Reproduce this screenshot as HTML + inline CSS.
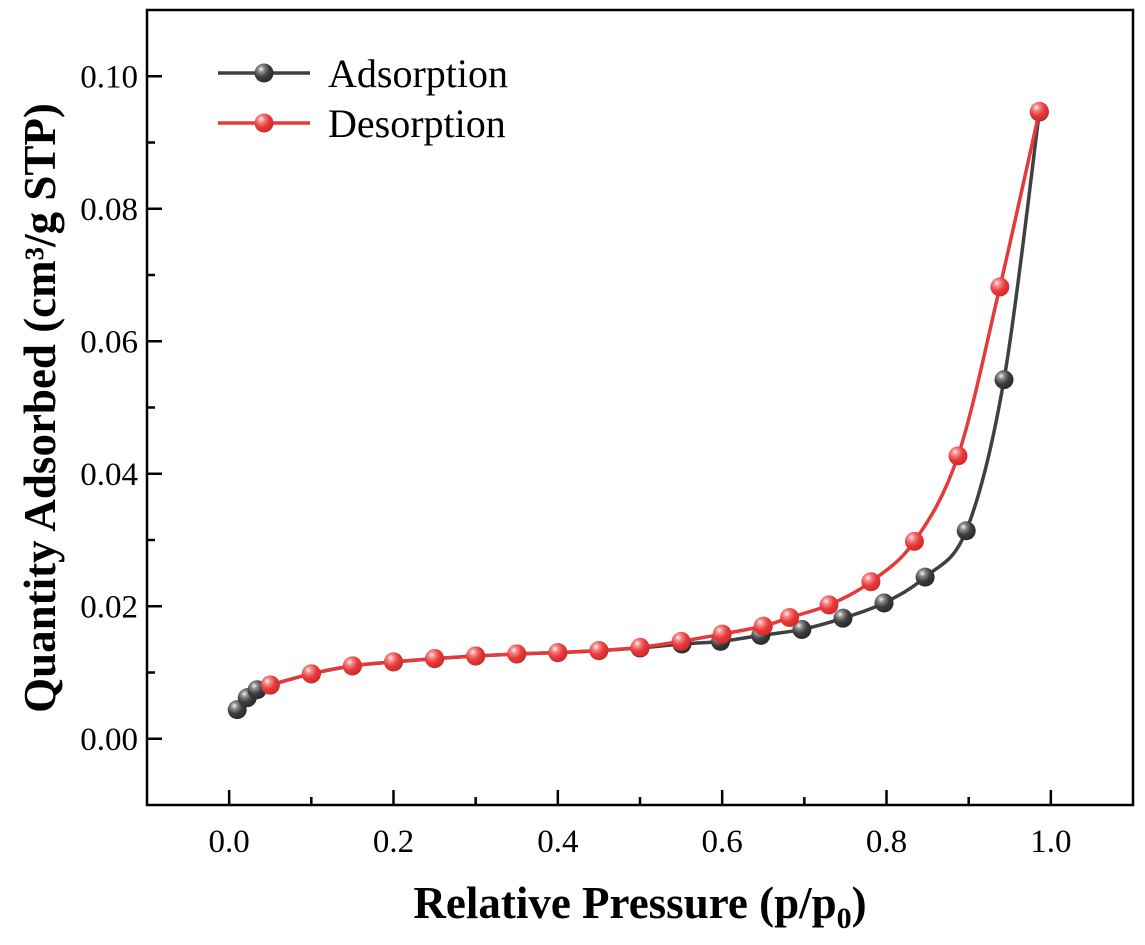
<!DOCTYPE html>
<html><head><meta charset="utf-8"><style>
html,body{margin:0;padding:0;background:#fff;}
svg{display:block;font-family:"Liberation Serif",serif;}
</style></head><body>
<svg id="chart" width="1145" height="945" viewBox="0 0 1145 945" xmlns="http://www.w3.org/2000/svg">
<defs>
<radialGradient id="gBlack" cx="0.35" cy="0.3" r="0.7">
<stop offset="0" stop-color="#f4f4f4"/><stop offset="0.25" stop-color="#888"/><stop offset="0.6" stop-color="#3e3e3e"/><stop offset="1" stop-color="#2a2a2a"/>
</radialGradient>
<radialGradient id="gRed" cx="0.35" cy="0.3" r="0.7">
<stop offset="0" stop-color="#fff0f0"/><stop offset="0.25" stop-color="#f58585"/><stop offset="0.6" stop-color="#e83a3a"/><stop offset="1" stop-color="#d42a2a"/>
</radialGradient>
</defs>
<g id="plot"></g>
</svg>
<script>
const adsX=[0.0098,0.022,0.034,0.05,0.1,0.15,0.2,0.25,0.3,0.35,0.4,0.45,0.5,0.551,0.598,0.647,0.697,0.747,0.797,0.847,0.897,0.943,0.986];
const adsY=[0.0044,0.0062,0.0074,0.0081,0.0098,0.011,0.0116,0.0121,0.0125,0.0128,0.013,0.0133,0.0137,0.0143,0.0147,0.0156,0.0165,0.0182,0.0205,0.0244,0.0314,0.0542,0.0946];
const desX=[0.05,0.1,0.15,0.2,0.25,0.3,0.35,0.4,0.45,0.5,0.55,0.6,0.65,0.682,0.730,0.781,0.834,0.887,0.938,0.986];
const desY=[0.0081,0.0098,0.011,0.0116,0.0121,0.0125,0.0128,0.013,0.0133,0.0138,0.0147,0.0158,0.017,0.0183,0.0202,0.0237,0.0298,0.0427,0.0682,0.0947];
const xTicks=["0.0","0.2","0.4","0.6","0.8","1.0"];
const yTicks=["0.00","0.02","0.04","0.06","0.08","0.10"];
const L=147,R=1133,T=10,B=805;
const xMin=-0.1,xMax=1.1,yMin=-0.01,yMax=0.11;
const sx=v=>L+(v-xMin)/(xMax-xMin)*(R-L);
const sy=v=>B-(v-yMin)/(yMax-yMin)*(B-T);
const NS="http://www.w3.org/2000/svg";
const g=document.getElementById('plot');
function mk(t,a){const e=document.createElementNS(NS,t);for(const k in a)e.setAttribute(k,a[k]);g.appendChild(e);return e;}
let e=mk('rect',{x:L,y:T,width:R-L,height:B-T,fill:'none',stroke:'#000','stroke-width':2.5});


for(let i=0;i<=10;i++){
  const v=i*0.1,x=sx(v),maj=i%2===0;
  e=mk('line',{x1:x,x2:x,y1:B,y2:B-(maj?15:8),stroke:'#000','stroke-width':2.5});
  
  
  if(maj){e=mk('text',{x:x,y:B+47,'font-size':33,'text-anchor':'middle'});e.textContent=xTicks[i/2];
  
  }
}
for(let i=0;i<=10;i++){
  const v=i*0.01,y=sy(v),maj=i%2===0;
  e=mk('line',{x1:L,x2:L+(maj?15:8),y1:y,y2:y,stroke:'#000','stroke-width':2.5});
  
  
  if(maj){e=mk('text',{x:L-9,y:y+11,'font-size':33,'text-anchor':'end'});e.textContent=yTicks[i/2];
  
  }
}
function spline(xs,ys){
  const p=xs.map((x,i)=>[sx(x),sy(ys[i])]);
  let d='M'+p[0][0]+','+p[0][1];
  for(let i=0;i<p.length-1;i++){
    const p0=p[Math.max(0,i-1)],p1=p[i],p2=p[i+1],p3=p[Math.min(p.length-1,i+2)];
    const c1=[p1[0]+(p2[0]-p0[0])/6,p1[1]+(p2[1]-p0[1])/6];
    const c2=[p2[0]-(p3[0]-p1[0])/6,p2[1]-(p3[1]-p1[1])/6];
    d+=' C'+c1+' '+c2+' '+p2;
  }
  return d;
}
e=mk('path',{d:spline(adsX,adsY),fill:'none',stroke:'#404040','stroke-width':3.5});


adsX.forEach((x,i)=>{e=mk('circle',{cx:sx(x),cy:sy(adsY[i]),r:9.5,fill:'url(#gBlack)'});

});
e=mk('path',{d:spline(desX,desY),fill:'none',stroke:'#e63a3a','stroke-width':3.5});


desX.forEach((x,i)=>{e=mk('circle',{cx:sx(x),cy:sy(desY[i]),r:9.5,fill:'url(#gRed)'});

});
[['Adsorption','#404040','url(#gBlack)',73],['Desorption','#e63a3a','url(#gRed)',123]].forEach(l=>{
  e=mk('line',{x1:218,x2:310,y1:l[3],y2:l[3],stroke:l[1],'stroke-width':3.5});
  
  
  e=mk('circle',{cx:264,cy:l[3],r:9.5,fill:l[2]});
  
  
  e=mk('text',{x:328,y:l[3]+14,'font-size':40});e.textContent=l[0];
  
  
});
e=mk('text',{x:640,y:918,'font-size':45,'font-weight':'bold','text-anchor':'middle'});
e.innerHTML='Relative Pressure (p/p<tspan font-size="30" dy="10">0</tspan><tspan dy="-10">)</tspan>';


e=mk('text',{x:0,y:0,'font-size':45,'font-weight':'bold','text-anchor':'middle',transform:'translate(55,408) rotate(-90)'});
e.textContent='Quantity Adsorbed (cm³/g STP)';


</script>
</body></html>
